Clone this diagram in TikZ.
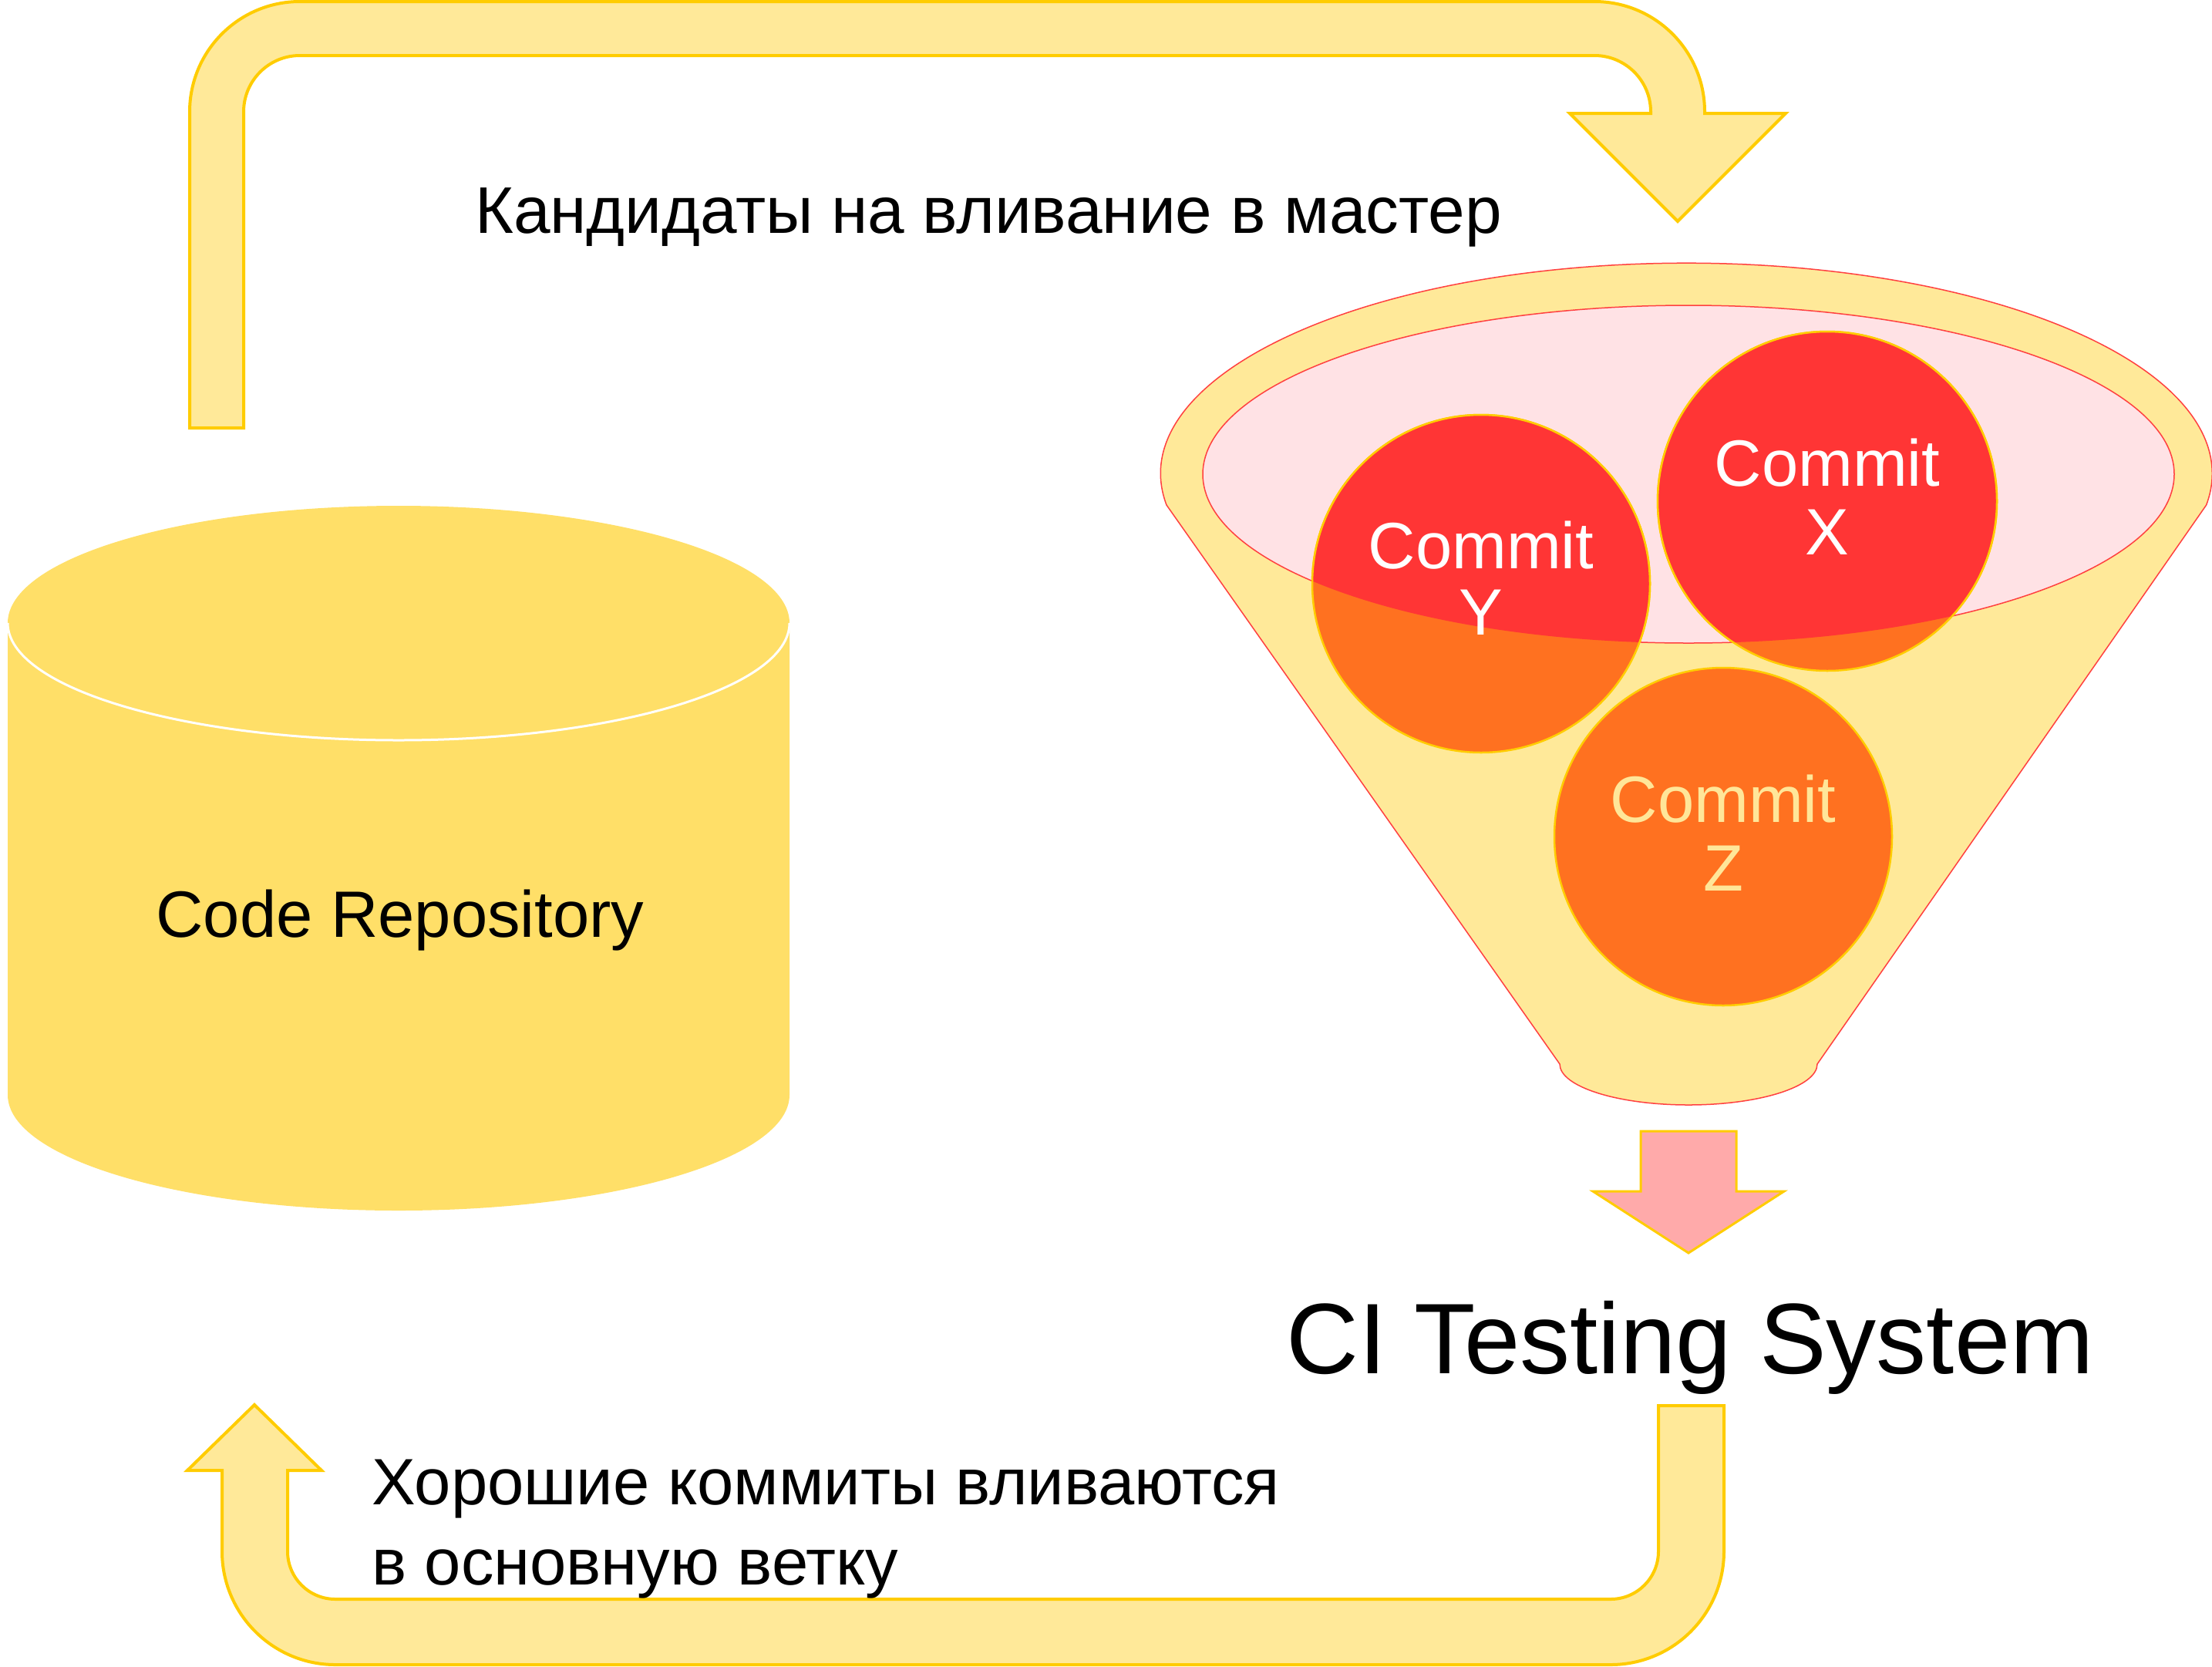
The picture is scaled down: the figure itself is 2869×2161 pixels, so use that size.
\documentclass[tikz,border=0pt]{standalone}
\usepackage{fontspec}
\setmainfont{Liberation Sans}
\definecolor{gold}{RGB}{255,204,0}
\definecolor{arrowfill}{RGB}{255,233,153}
\definecolor{cylfill}{RGB}{255,223,104}
\definecolor{funfill}{RGB}{255,233,153}
\definecolor{funline}{RGB}{255,64,64}
\definecolor{pinkfill}{RGB}{255,226,229}
\definecolor{redfill}{RGB}{255,53,53}
\definecolor{orangefill}{RGB}{255,113,32}
\definecolor{pinkarrow}{RGB}{255,170,170}
\definecolor{ztext}{RGB}{255,230,153}
\tikzset{
  bigarrow/.style={fill=arrowfill, draw=gold, line width=4pt, line join=miter},
  commitcircle/.style={fill=orangefill, draw=gold, line width=2.5pt},
  label87/.style={font=\fontsize{85.5pt}{100pt}\selectfont, inner sep=0pt, anchor=base},
  label85/.style={font=\fontsize{85pt}{95pt}\selectfont, inner sep=0pt, anchor=base},
  ctext/.style={font=\fontsize{85pt}{95pt}\selectfont, inner sep=0pt, anchor=base}
}
\begin{document}
\begin{tikzpicture}[x=1pt,y=1pt]
\useasboundingbox (0,0) rectangle (2869,-2161);

% top bent arrow
\path[bigarrow] (246,-555) -- (246,-145) arc[start angle=180,end angle=90,radius=143]
  -- (2068,-2) arc[start angle=90,end angle=0,radius=143]
  -- (2211,-147) -- (2316,-147) -- (2176,-287) -- (2036,-147) -- (2141,-147)
  -- (2141,-145) arc[start angle=0,end angle=90,radius=73]
  -- (389,-72) arc[start angle=90,end angle=180,radius=73]
  -- (316,-555) -- cycle;

% bottom U arrow
\path[bigarrow] (2236,-1823) -- (2236,-2012) arc[start angle=0,end angle=-90,radius=147]
  -- (435,-2159) arc[start angle=270,end angle=180,radius=147]
  -- (288,-1907) -- (243,-1907) -- (330,-1822) -- (417,-1907) -- (373,-1907)
  -- (373,-2012) arc[start angle=180,end angle=270,radius=62]
  -- (2089,-2074) arc[start angle=270,end angle=360,radius=62]
  -- (2151,-1823) -- cycle;

% cylinder
\path[fill=cylfill] (10,-808) -- (10,-1420)
  arc[start angle=180,end angle=360,x radius=507,y radius=150]
  -- (1024,-808) arc[start angle=0,end angle=180,x radius=507,y radius=152] -- cycle;
\draw[white, line width=3pt] (10,-808) arc[start angle=180,end angle=360,x radius=507,y radius=152];

% funnel
\path[fill=funfill, draw=funline, line width=1.5pt]
  (1513,-655) arc[start angle=188.6,end angle=-8.6,x radius=682,y radius=273]
  -- (2357,-1380) arc[start angle=0,end angle=-180,x radius=167,y radius=53]
  -- cycle;
\path[fill=pinkfill, draw=funline, line width=1.5pt] (2190,-615) ellipse[x radius=630,y radius=219];

% commit circles
\path[commitcircle] (1921,-757) circle[radius=219];
\path[commitcircle] (2370,-650) circle[radius=220];
\path[commitcircle] (2235,-1085) circle[radius=219];
\begin{scope}
  \clip (2190,-615) ellipse[x radius=630,y radius=219];
  \path[fill=redfill, draw=gold, line width=2.5pt] (1921,-757) circle[radius=219];
  \path[fill=redfill, draw=gold, line width=2.5pt] (2370,-650) circle[radius=220];
\end{scope}

% pink arrow
\path[fill=pinkarrow, draw=gold, line width=3pt] (2128,-1467) -- (2252,-1467) -- (2252,-1545)
  -- (2314,-1545) -- (2190,-1625) -- (2066,-1545) -- (2128,-1545) -- cycle;

% texts
\node[label87] (cand) at (1282,-302) {Кандидаты на вливание в мастер};
\node[label87, font=\fontsize{85pt}{100pt}\selectfont] (repo) at (519,-1215) {Code Repository};
\node[font=\fontsize{130pt}{150pt}\selectfont, inner sep=0pt, anchor=base] (ci) at (2192,-1781) {CI Testing System};
\node[label85, anchor=base west] (good1) at (482,-1951) {Хорошие коммиты вливаются};
\node[label85, anchor=base west] (good2) at (482,-2055) {в основную ветку};

\node[ctext, text=white] (xa) at (2370,-630) {Commit};
\node[ctext, text=white] (xb) at (2370,-719) {X};
\node[ctext, text=white] (ya) at (1921,-737) {Commit};
\node[ctext, text=white] (yb) at (1921,-823) {Y};
\node[ctext, text=ztext] (za) at (2235,-1066) {Commit};
\node[ctext, text=ztext] (zb) at (2235,-1155) {Z};
\end{tikzpicture}
\end{document}
